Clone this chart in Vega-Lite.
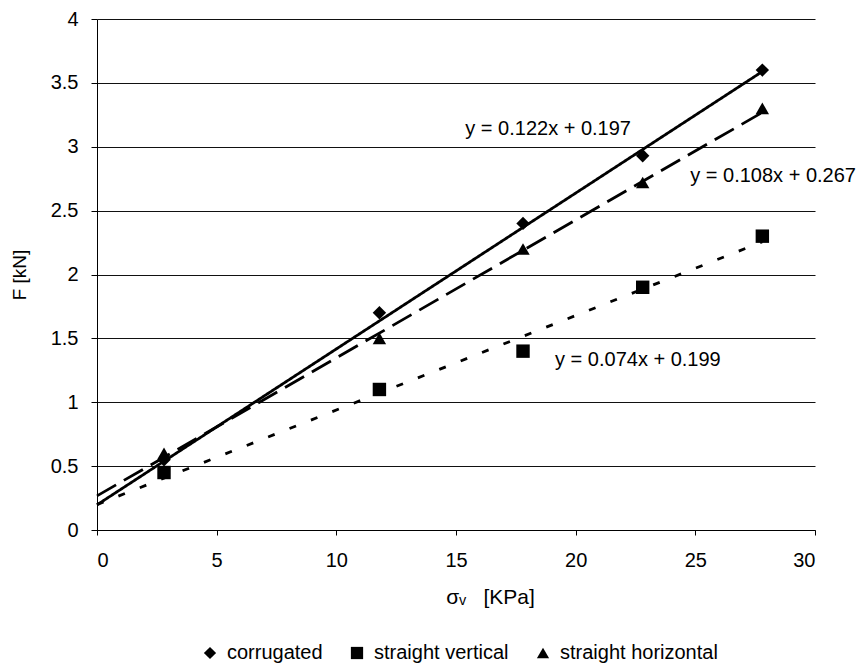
{
  "$schema": "https://vega.github.io/schema/vega-lite/v6.json",
  "width": 718,
  "height": 511,
  "autosize": "none",
  "padding": {"left": 97, "top": 19, "right": 49, "bottom": 138},
  "background": "white",
  "config": {"view": {"stroke": null}, "font": "Liberation Sans"},
  "datasets": {
    "points": [
      {"series": "corrugated", "x": 2.8, "F": 0.55},
      {"series": "corrugated", "x": 11.8, "F": 1.7},
      {"series": "corrugated", "x": 17.8, "F": 2.4},
      {"series": "corrugated", "x": 22.8, "F": 2.93},
      {"series": "corrugated", "x": 27.8, "F": 3.6},
      {"series": "straight vertical", "x": 2.8, "F": 0.45},
      {"series": "straight vertical", "x": 11.8, "F": 1.1},
      {"series": "straight vertical", "x": 17.8, "F": 1.4},
      {"series": "straight vertical", "x": 22.8, "F": 1.9},
      {"series": "straight vertical", "x": 27.8, "F": 2.3},
      {"series": "straight horizontal", "x": 2.8, "F": 0.6},
      {"series": "straight horizontal", "x": 11.8, "F": 1.5},
      {"series": "straight horizontal", "x": 17.8, "F": 2.2},
      {"series": "straight horizontal", "x": 22.8, "F": 2.72},
      {"series": "straight horizontal", "x": 27.8, "F": 3.3}
    ],
    "trend": [
      {"series": "corrugated", "x": 0, "F": 0.197},
      {"series": "corrugated", "x": 27.8, "F": 3.589},
      {"series": "straight horizontal", "x": 0, "F": 0.267},
      {"series": "straight horizontal", "x": 27.8, "F": 3.269},
      {"series": "straight vertical", "x": 0, "F": 0.199},
      {"series": "straight vertical", "x": 27.8, "F": 2.256}
    ],
    "labels": [
      {"label": "y = 0.122x + 0.197", "x": 18.85, "F": 3.14},
      {"label": "y = 0.108x + 0.267", "x": 28.25, "F": 2.77},
      {"label": "y = 0.074x + 0.199", "x": 22.6, "F": 1.33}
    ]
  },
  "layer": [
    {
      "data": {"name": "trend"},
      "mark": {"type": "line", "strokeWidth": 2.8, "color": "black"},
      "encoding": {
        "x": {
          "field": "x", "type": "quantitative",
          "scale": {"domain": [0, 30], "nice": false},
          "axis": {
            "values": [0, 5, 10, 15, 20, 25, 30],
            "grid": false,
            "domainColor": "black",
            "tickColor": "black",
            "tickSize": 5,
            "labelPadding": 15,
            "labelFontSize": 20,
            "labelColor": "black",
            "title": "σᵥ\u00a0\u00a0\u00a0[KPa]",
            "titleFontSize": 21,
            "titleFontWeight": "normal",
            "titleColor": "black",
            "titlePadding": 16,
            "titleX": 393
          }
        },
        "y": {
          "field": "F", "type": "quantitative",
          "scale": {"domain": [0, 4], "nice": false},
          "axis": {
            "values": [0, 0.5, 1, 1.5, 2, 2.5, 3, 3.5, 4],
            "format": "~g",
            "grid": true,
            "gridColor": "#111111",
            "gridWidth": 1.2,
            "domainColor": "black",
            "tickColor": "black",
            "tickSize": 6,
            "labelPadding": 13,
            "labelFontSize": 20,
            "labelColor": "black",
            "title": "F [kN]",
            "titleFontSize": 19,
            "titleFontWeight": "normal",
            "titleColor": "black",
            "titlePadding": 21
          }
        },
        "detail": {"field": "series"},
        "strokeDash": {
          "field": "series", "type": "nominal",
          "scale": {
            "domain": ["corrugated", "straight horizontal", "straight vertical"],
            "range": [[1, 0], [22, 9], [7, 16]]
          },
          "legend": null
        }
      }
    },
    {
      "data": {"name": "points"},
      "mark": {"type": "point", "filled": true, "opacity": 1, "color": "black", "size": 180},
      "encoding": {
        "x": {"field": "x", "type": "quantitative"},
        "y": {"field": "F", "type": "quantitative"},
        "shape": {
          "field": "series", "type": "nominal",
          "scale": {
            "domain": ["corrugated", "straight vertical", "straight horizontal"],
            "range": ["diamond", "square", "triangle-up"]
          },
          "legend": {
            "title": null,
            "orient": "none",
            "direction": "horizontal",
            "legendX": 103,
            "legendY": 624,
            "labelFontSize": 20,
            "labelLimit": 400,
            "labelColor": "black",
            "symbolFillColor": "black",
            "symbolStrokeColor": "black",
            "symbolSize": 150,
            "symbolOpacity": 1,
            "labelOffset": 7,
            "columnPadding": 24
          }
        }
      }
    },
    {
      "data": {"name": "labels"},
      "mark": {"type": "text", "fontSize": 20, "align": "center", "baseline": "middle", "color": "black"},
      "encoding": {
        "x": {"field": "x", "type": "quantitative"},
        "y": {"field": "F", "type": "quantitative"},
        "text": {"field": "label"}
      }
    }
  ]
}
